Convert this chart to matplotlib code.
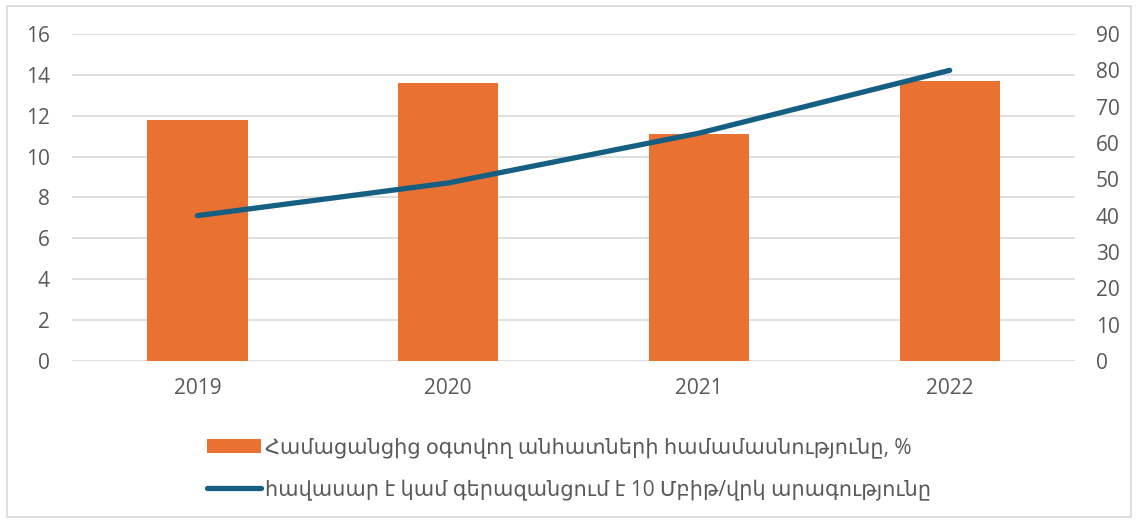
import matplotlib
matplotlib.use("Agg")
import matplotlib.pyplot as plt
from matplotlib.patches import Rectangle
import numpy as np

plt.rcParams["font.family"] = ["Open Sans", "DejaVu Sans"]

years = ["2019", "2020", "2021", "2022"]
share_pct = [11.8, 13.6, 11.1, 13.7]
speed_10mbps = [40, 49, 62.7, 80]

bar_label = "Համացանցից օգտվող անհատների համամասնությունը, %"
line_label = "հավասար է կամ գերազանցում է 10 Մբիթ/վրկ արագությունը"

ORANGE = "#E97132"
BLUE = "#156082"
GRID = "#D9D9D9"
TEXT = "#595959"

fig = plt.figure(figsize=(11.38, 5.23), dpi=100)
ax = fig.add_axes([0.0633, 0.3098, 0.8814, 0.6252])
ax2 = ax.twinx()

x = np.arange(len(years))
bars = ax.bar(x, share_pct, width=0.4, color=ORANGE, zorder=2, label=bar_label)
line, = ax2.plot(x, speed_10mbps, color=BLUE, lw=3.8, solid_capstyle="round",
                 zorder=3, label=line_label)

ax.set_xlim(-0.5, 3.5)
ax.set_ylim(0, 16)
ax.set_yticks(range(0, 17, 2))
ax2.set_ylim(0, 90)
ax2.set_yticks(range(0, 91, 10))
ax.set_xticks(x)
ax.set_xticklabels(years)

ax.grid(axis="y", color=GRID, lw=1.2, zorder=0)
ax.set_axisbelow(True)
for a in (ax, ax2):
    for s in a.spines.values():
        s.set_visible(False)
    a.tick_params(length=0, labelsize=15, labelcolor=TEXT)
ax.tick_params(axis="x", pad=12)
ax.tick_params(axis="y", pad=16)
ax2.tick_params(axis="y", pad=15)

fig.legend([bars, line], [bar_label, line_label], loc="upper center",
           bbox_to_anchor=(0.5, 0.2), ncol=1, frameon=False,
           fontsize=15, labelcolor=TEXT, handlelength=2.6, handletextpad=0.15,
           labelspacing=1.0)

fig.patches.append(Rectangle((0.006, 0.012), 0.988, 0.976, transform=fig.transFigure,
                             fill=False, edgecolor="#D9D9D9", lw=1.2))

fig.savefig("out.png", dpi=100)
